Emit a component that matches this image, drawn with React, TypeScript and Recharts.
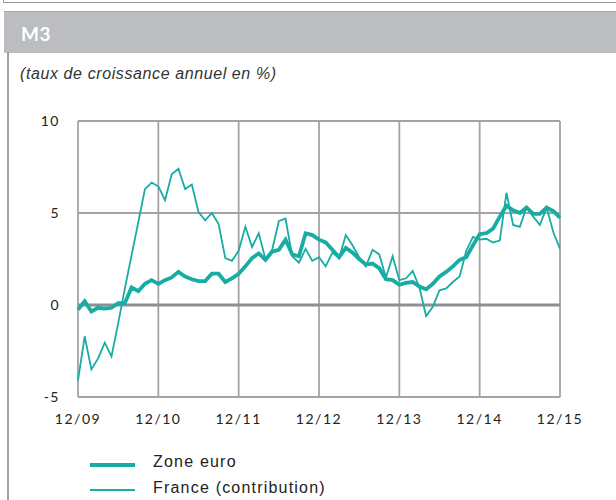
import { LineChart, Line, XAxis, YAxis, CartesianGrid, ReferenceLine } from "recharts";

// monthly annual growth rates, 12/09 -> 12/15
const zoneEuro = [
  -0.25, 0.2, -0.35, -0.15, -0.2, -0.15, 0.1, 0.1, 0.95, 0.75, 1.15, 1.35,
  1.15, 1.35, 1.5, 1.8, 1.55, 1.4, 1.3, 1.3, 1.7, 1.7, 1.25, 1.45,
  1.7, 2.1, 2.55, 2.8, 2.45, 2.9, 3.0, 3.55, 2.75, 2.65, 3.9, 3.8,
  3.55, 3.4, 3.0, 2.6, 3.1, 2.85, 2.5, 2.2, 2.25, 2.0, 1.4, 1.35,
  1.1, 1.2, 1.25, 1.0, 0.85, 1.15, 1.55, 1.8, 2.1, 2.45, 2.6, 3.25,
  3.85, 3.9, 4.15, 4.8, 5.4, 5.15, 5.0, 5.3, 4.95, 4.95, 5.3, 5.1,
  4.75,
];

const franceContribution = [
  -4.1, -1.7, -3.5, -2.9, -2.05, -2.8, -1.0, 0.9, 2.7, 4.5, 6.3, 6.65,
  6.45, 5.7, 7.1, 7.4, 6.3, 6.55, 5.05, 4.6, 5.0, 4.4, 2.55, 2.4,
  2.95, 4.25, 3.15, 3.9, 2.5, 3.0, 4.55, 4.7, 2.65, 2.3, 3.05, 2.4,
  2.6, 2.1, 2.85, 2.55, 3.8, 3.25, 2.6, 2.1, 3.0, 2.75, 1.5, 2.65,
  1.35, 1.45, 1.85, 0.95, -0.6, -0.1, 0.8, 0.9, 1.25, 1.55, 2.95, 3.7,
  3.55, 3.6, 3.4, 3.5, 6.1, 4.35, 4.25, 5.3, 4.8, 4.35, 5.3, 3.95,
  3.05,
];

const xTickLabels = ["12/09", "12/10", "12/11", "12/12", "12/13", "12/14", "12/15"];
const yTicks = [-5, 0, 5, 10];

const data = zoneEuro.map((v, i) => ({ t: i, euro: v, france: franceContribution[i] }));
const xTicks = xTickLabels.map((_, i) => i * 12);

const TEAL = "#17aca4";
const GRID = "#a3a3a7";
const tickFont = { fontFamily: "Lato, sans-serif", fontSize: 14, fill: "#222", letterSpacing: 1.5 };
const textFont = "'Liberation Sans', Arial, sans-serif";

export default function App() {
  return (
    <div style={{ position: "absolute", left: 0, top: 0, width: 616, height: 500, background: "#fff", overflow: "hidden" }}>
      {/* frame bits */}
      <div style={{ position: "absolute", left: 3, top: 2, width: 613, height: 0, borderTop: "1.5px solid #9a9a9e" }} />
      <div style={{ position: "absolute", left: 3, top: 0, width: 0, height: 3, borderLeft: "1.5px solid #9a9a9e" }} />
      <div
        style={{
          position: "absolute", left: 4, top: 11, width: 612, height: 41,
          background: "#bcbdc0", borderTop: "1.5px solid #a8a8ab",
        }}
      >
        <span
          style={{
            position: "absolute", left: 17, top: 10, color: "#fff",
            fontFamily: "Lato, sans-serif", fontWeight: 700, fontSize: 19, letterSpacing: 0.5,
          }}
        >
          M3
        </span>
      </div>
      <div style={{ position: "absolute", left: 7, top: 52, width: 0, height: 448, borderLeft: "2px solid #a3a3a7" }} />
      <div
        style={{
          position: "absolute", left: 20, top: 65, color: "#333",
          fontFamily: textFont, fontStyle: "italic", fontSize: 16, letterSpacing: 0.6,
        }}
      >
        (taux de croissance annuel en %)
      </div>

      <div style={{ position: "absolute", left: 0, top: 0 }}>
        <LineChart width={616} height={445} data={data} margin={{ top: 121, right: 56, bottom: 0, left: 18 }}>
          <CartesianGrid stroke={GRID} strokeWidth={1.8} />
          <XAxis
            type="number"
            dataKey="t"
            domain={[0, 72]}
            ticks={xTicks}
            tickFormatter={(v) => xTickLabels[v / 12]}
            axisLine={false}
            tickLine={false}
            tickSize={0}
            tickMargin={17}
            height={48}
            tick={tickFont}
          />
          <YAxis
            domain={[-5, 10]}
            ticks={yTicks}
            axisLine={false}
            tickLine={false}
            tickSize={0}
            tickMargin={18}
            width={60}
            tick={tickFont}
          />
          <ReferenceLine y={0} stroke="#8f8f93" strokeWidth={3} />
          <Line type="linear" dataKey="france" stroke={TEAL} strokeWidth={1.8} dot={false} isAnimationActive={false} />
          <Line type="linear" dataKey="euro" stroke={TEAL} strokeWidth={3.8} dot={false} isAnimationActive={false} />
        </LineChart>
      </div>

      {/* legend */}
      <div style={{ position: "absolute", left: 90, top: 463, width: 45, height: 4, background: TEAL }} />
      <div style={{ position: "absolute", left: 90, top: 489, width: 45, height: 2, background: TEAL }} />
      <div
        style={{
          position: "absolute", left: 153, top: 452, fontFamily: textFont,
          fontSize: 16, letterSpacing: 1.2, color: "#222", lineHeight: "20px",
        }}
      >
        Zone euro
      </div>
      <div
        style={{
          position: "absolute", left: 153, top: 478, fontFamily: textFont,
          fontSize: 16, letterSpacing: 1.2, color: "#222", lineHeight: "20px",
        }}
      >
        France (contribution)
      </div>
    </div>
  );
}
